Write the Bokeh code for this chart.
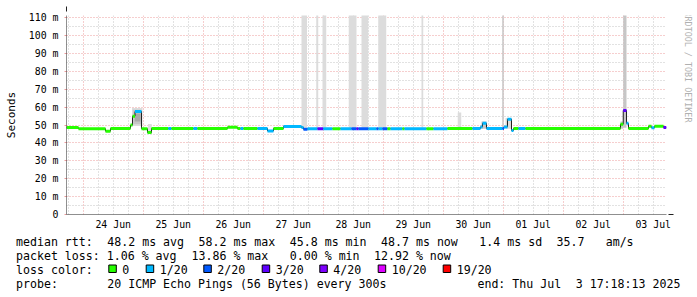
import re
from math import pi
from bokeh.plotting import figure
from bokeh.layouts import column, row
from bokeh.models import FixedTicker, Arrow, NormalHead, Range1d
from bokeh.core.properties import value
from bokeh.embed import file_html
from bokeh.resources import INLINE

# ---------------- data ----------------
# time axis: hours since 2025-06-24 00:00
START_H = -(6 + 41 / 60 + 47 / 3600)          # Mon Jun 23 17:18:13
END_H = 9 * 24 + 17 + 18 / 60 + 13 / 3600     # Thu Jul  3 17:18:13

day_labels = ["24 Jun", "25 Jun", "26 Jun", "27 Jun", "28 Jun",
              "29 Jun", "30 Jun", "01 Jul", "02 Jul", "03 Jul"]
y_ticks = [0, 10, 20, 30, 40, 50, 60, 70, 80, 90, 100, 110]
y_labels = ["0", "10 m", "20 m", "30 m", "40 m", "50 m", "60 m",
            "70 m", "80 m", "90 m", "100 m", "110 m"]

# median rtt, step series (start hour of each step, ms, lost pings of 20)
med_start = [START_H, -1.9, 8.9, 10.9, 18.9, 19.7, 20.7, 23.3, 25.7, 27.3,
             34.0, 35.3, 44.1, 45.7, 57.7, 61.7, 62.9, 64.1, 69.7, 73.7,
             76.1, 80.1, 87.3, 88.1, 89.7, 93.7, 96.0, 99.7, 102.9, 107.3,
             109.3, 110.1, 114.1, 117.3, 118.1, 119.7, 121.7, 122.9, 127.7, 128.5,
             137.3, 140.1, 145.7, 155.7, 158.9, 159.7, 161.3, 167.7, 168.3, 169.7,
             171.3, 172.1, 174.1, 176.9, 214.9, 216.0, 217.3, 218.1, 226.1, 227.3,
             228.5, 232.1]
med_ms = [48.6, 48.0, 46.6, 48.1, 50.0, 55.0, 57.6, 48.0, 45.8, 48.1,
          48.1, 48.1, 48.1, 48.1, 48.8, 48.1, 48.1, 48.1, 48.1, 46.7,
          48.1, 49.2, 48.6, 47.7, 48.0, 48.0, 48.0, 48.0, 48.0, 48.0,
          48.0, 48.0, 48.0, 48.0, 48.0, 48.0, 48.0, 48.0, 48.0, 48.0,
          48.0, 48.0, 48.1, 48.1, 49.0, 51.0, 48.1, 48.1, 49.0, 53.3,
          47.0, 48.1, 48.1, 48.1, 50.5, 58.2, 51.0, 48.1, 49.3, 48.5,
          49.4, 48.7]
med_loss = [0, 0, 0, 0, 0, 0, 1, 0, 0, 0,
            1, 0, 1, 0, 0, 0, 1, 0, 1, 1,
            0, 1, 1, 2, 1, 3, 1, 0, 1, 2,
            3, 2, 1, 2, 1, 2, 0, 1, 0, 1,
            0, 1, 0, 1, 1, 1, 1, 2, 1, 1,
            1, 0, 1, 0, 0, 3, 1, 0, 0, 1,
            0, 3]

# smoke (spread of the individual pings): start/end hour, low/high ms, density 1..3
smoke_t0 = [19.5, 20.0, 20.6, 25.9, 87.3, 93.2, 95.7, 106.2, 111.3, 118.0,
            135.3, 149.8, 159.3, 167.6, 168.9, 214.9, 216.0]
smoke_t1 = [23.7, 23.3, 22.9, 27.4, 89.5, 94.0, 97.2, 109.3, 114.0, 121.2,
            136.0, 151.2, 161.3, 168.2, 171.3, 216.0, 217.3]
smoke_lo = [49.5, 50.5, 52.0, 45.0, 48.5, 48.5, 48.5, 48.5, 48.5, 48.5,
            48.5, 48.5, 48.0, 48.5, 48.0, 48.0, 48.5]
smoke_hi = [59.6, 58.6, 56.5, 50.6, 112.0, 112.0, 112.0, 112.0, 112.0, 112.0,
            112.0, 57.0, 52.0, 112.0, 54.0, 52.0, 112.0]
smoke_density = [1, 2, 3, 1, 1, 1, 1, 1, 1, 1,
                 1, 1, 2, 2, 1, 2, 2]

loss_steps = [0, 1, 2, 3, 4, 10, 19]
loss_names = ["0", "1/20", "2/20", "3/20", "4/20", "10/20", "19/20"]
loss_colors = ["#26ff00", "#00b8ff", "#0059ff", "#5e00ff", "#7e00ff", "#dd00ff", "#ff0000"]

rtt_avg, rtt_max, rtt_min, rtt_now, rtt_sd, rtt_ams = 48.2, 58.2, 45.8, 48.7, 1.4, 35.7
loss_avg, loss_max, loss_min, loss_now = 1.06, 13.86, 0.00, 12.92
probe_text = "20 ICMP Echo Pings (56 Bytes) every 300s"
end_text = "Thu Jul  3 17:18:13 2025"

# ---------------- styling / layout ----------------
MONO = "DejaVu Sans Mono"
MGRID = "#ec9c9c"
GRID = "#c4c4c4"
SMOKE = {1: "#dcdcdc", 2: "#c6c6c6", 3: "#a9a9a9"}
AX = "#202020"
ARW = "#8b1a1a"
ADV = 7.02          # character advance of the legend font, px

W, H_MAIN, W_MAIN = 697, 232, 680
H_LEG = 297 - H_MAIN


def loss_color(n):
    c = loss_colors[0]
    for s, col in zip(loss_steps, loss_colors):
        if n >= s:
            c = col
    return c


p = figure(width=W_MAIN, height=H_MAIN, output_backend="svg", toolbar_location=None,
           x_range=Range1d(START_H, END_H), y_range=Range1d(0, 111.3),
           min_border_left=66, min_border_right=W_MAIN - 666, min_border_top=15,
           min_border_bottom=H_MAIN - 216)
p.outline_line_color = None
p.background_fill_color = "white"
p.border_fill_color = "white"

# axes
p.xaxis.ticker = FixedTicker(ticks=[12 + 24 * i for i in range(len(day_labels))])
p.xaxis.major_label_overrides = {12 + 24 * i: lab for i, lab in enumerate(day_labels)}
p.xaxis.major_tick_line_color = None
p.xaxis.minor_tick_line_color = None
p.xaxis.major_tick_out = 0
p.xaxis.major_tick_in = 0
p.xaxis.axis_line_color = None
p.xaxis.major_label_standoff = 4
p.xaxis.major_label_text_font = MONO
p.xaxis.major_label_text_font_size = "9.9px"
p.xaxis.major_label_text_color = "black"

p.yaxis.ticker = FixedTicker(ticks=y_ticks, minor_ticks=[t + 5 for t in y_ticks[:-1]])
p.yaxis.major_label_overrides = dict(zip(y_ticks, y_labels))
p.yaxis.major_tick_out = 2
p.yaxis.major_tick_in = 0
p.yaxis.major_tick_line_color = MGRID
p.yaxis.minor_tick_line_color = None
p.yaxis.axis_line_color = None
p.yaxis.major_label_standoff = 4
p.yaxis.major_label_text_font = MONO
p.yaxis.major_label_text_font_size = "9.9px"
p.yaxis.major_label_text_color = "black"
p.yaxis.axis_label = "Seconds"
p.yaxis.axis_label_text_font = MONO
p.yaxis.axis_label_text_font_size = "11px"
p.yaxis.axis_label_text_font_style = "normal"
p.yaxis.axis_label_text_color = "black"
p.yaxis.axis_label_standoff = 8

# grids
mid = [24 * i for i in range(10)]
minor_x = [h for h in range(-6, 234, 6) if h % 24 != 0]
p.xgrid.ticker = FixedTicker(ticks=mid, minor_ticks=minor_x)
for g in (p.xgrid, p.ygrid):
    g.grid_line_color = MGRID
    g.grid_line_dash = "1 2"
    g.minor_grid_line_color = GRID
    g.minor_grid_line_dash = "1 2"

# smoke
p.quad(left=smoke_t0, right=smoke_t1, bottom=smoke_lo, top=smoke_hi,
       fill_color=[SMOKE[d] for d in smoke_density], line_color=None)

# median: dark step line + loss-coloured steps
med_end = med_start[1:] + [END_H]
p.step(x=med_start + [END_H], y=med_ms + [med_ms[-1]], mode="after",
       line_color=AX, line_width=1)
p.segment(x0=med_start, x1=med_end, y0=med_ms, y1=med_ms,
          line_color=[loss_color(n) for n in med_loss], line_width=3)

# axis lines with arrow heads (screen units relative to the frame)
p.add_layout(Arrow(end=NormalHead(size=5, fill_color=ARW, line_color=ARW),
                   x_start=-3, y_start=0, x_end=607, y_end=0,
                   start_units="screen", end_units="screen",
                   line_color=AX, line_width=1))
p.add_layout(Arrow(end=NormalHead(size=5, fill_color=ARW, line_color=ARW),
                   x_start=0, y_start=-2, x_end=0, y_end=216 - 8,
                   start_units="screen", end_units="screen",
                   line_color=AX, line_width=1))

# ---------------- watermark strip (right) ----------------
side = figure(width=W - W_MAIN, height=H_MAIN, output_backend="svg", toolbar_location=None,
              x_range=Range1d(0, W - W_MAIN), y_range=Range1d(0, H_MAIN),
              x_axis_type=None, y_axis_type=None, min_border=0)
side.outline_line_color = None
side.text(x=[687 - W_MAIN], y=[H_MAIN - 60], text=["RRDTOOL / TOBI OETIKER"],
          angle=-pi / 2, text_align="center", text_baseline="middle",
          text_font=value(MONO), text_font_size=value("8.4px"), text_color="#b0b0b0")

# ---------------- legend strip (below) ----------------
leg = figure(width=W, height=H_LEG, output_backend="svg", toolbar_location=None,
             x_range=Range1d(0, W), y_range=Range1d(0, H_LEG),
             x_axis_type=None, y_axis_type=None, min_border=0)
leg.outline_line_color = None


def ly(cy):
    return 297 - cy


tx, ty, tt = [], [], []


def put_line(x0, cy, s):
    """place a monospace line; runs of spaces become positioned gaps"""
    for m in re.finditer(r"\S+(?: \S+)*", s):
        tx.append(x0 + m.start() * ADV)
        ty.append(ly(cy))
        tt.append(m.group())


line1 = (f"median rtt:  {rtt_avg:.1f} ms avg  {rtt_max:.1f} ms max  "
         f"{rtt_min:.1f} ms min  {rtt_now:.1f} ms now  {rtt_sd:4.1f} ms sd  "
         f"{rtt_ams:.1f}   am/s")
line2 = (f"packet loss: {loss_avg:.2f} % avg  {loss_max:.2f} % max  "
         f"{loss_min:5.2f} % min  {loss_now:.2f} % now")
line4 = "probe:       " + probe_text
end_line = "end: " + end_text

put_line(15.5, 241, line1)
put_line(15.5, 255, line2)
put_line(15.5, 269, "loss color:")
put_line(15.5, 283, line4)
put_line(680.5 - len(end_line) * ADV, 283, end_line)

box_x = [108.3, 145.7, 203.3, 261.7, 319.3, 377.7, 442.7]
for bx, name in zip(box_x, loss_names):
    put_line(bx + 13.5, 269, name)

leg.text(x=tx, y=ty, text=tt, text_align="left", text_baseline="middle",
         text_font=value(MONO), text_font_size=value("11.6px"), text_color="black")
leg.quad(left=box_x, right=[bx + 7.5 for bx in box_x],
         bottom=[ly(272)] * len(box_x), top=[ly(264.5)] * len(box_x),
         fill_color=loss_colors, line_color="black", line_width=1)

layout = column(row(p, side, spacing=0), leg, spacing=0)
open("out.html", "w").write(file_html(layout, INLINE))
